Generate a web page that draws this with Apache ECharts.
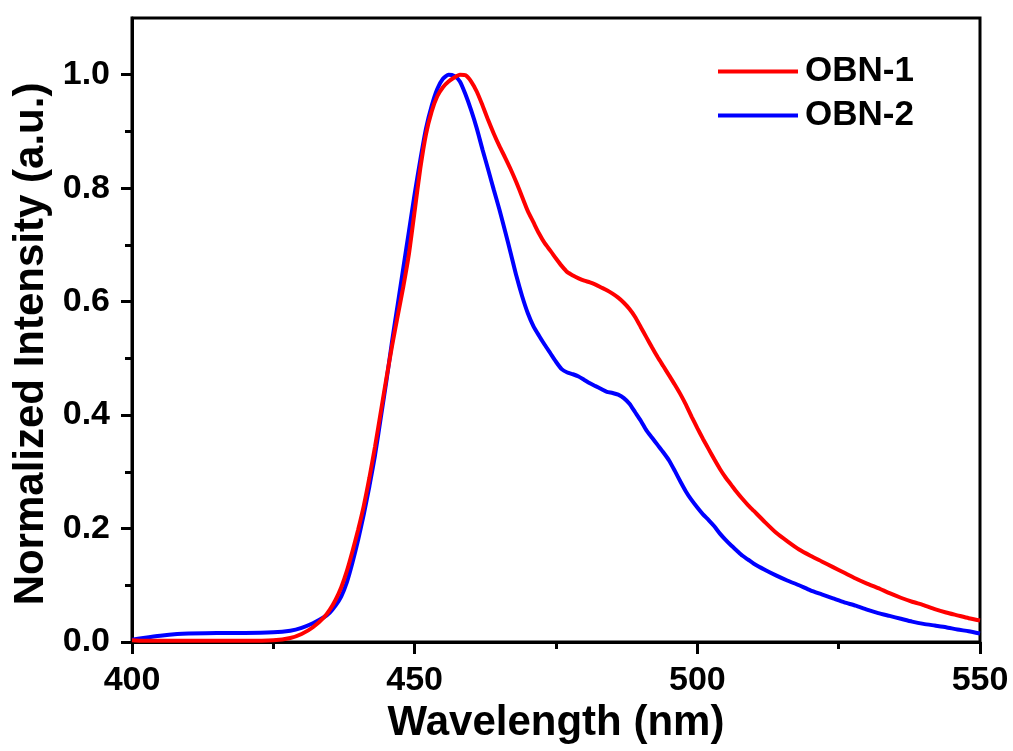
<!DOCTYPE html>
<html>
<head>
<meta charset="utf-8">
<script src="https://cdn.jsdelivr.net/npm/echarts@6/dist/echarts.min.js"></script>
<style>html,body{margin:0;padding:0;background:#fff}#c{width:1013px;height:751px}</style>
</head>
<body>
<div id="c"></div>
<script>
const wavelength = [400,402,405,408,410,415,420,425,428,430,432,434,435,436,437,438,439,440,441,442,443,444,445,446,447,448,449,450,451,452,453,454,455,456,457,458,459,460,461,462,463,464,465,466,467,468,469,470,471,472,473,474,475,476,477,478,479,480,481,482,483,484,485,486,487,488,489,490,491,492,493,494,495,496,497,498,499,500,501,502,503,504,505,506,507,508,509,510,512,514,516,518,520,522,524,526,528,530,532,534,536,538,540,542,544,546,548,550];
const obn1 = [0.003,0.002,0.002,0.002,0.002,0.002,0.002,0.003,0.007,0.014,0.026,0.044,0.057,0.074,0.096,0.125,0.160,0.198,0.240,0.290,0.345,0.405,0.465,0.522,0.575,0.627,0.685,0.760,0.835,0.895,0.935,0.962,0.978,0.988,0.995,1.000,0.999,0.988,0.970,0.946,0.920,0.896,0.874,0.854,0.833,0.810,0.785,0.760,0.740,0.720,0.703,0.690,0.676,0.663,0.652,0.646,0.641,0.637,0.634,0.630,0.625,0.620,0.614,0.607,0.598,0.587,0.573,0.555,0.537,0.519,0.502,0.486,0.470,0.454,0.437,0.418,0.397,0.377,0.358,0.340,0.322,0.305,0.290,0.277,0.264,0.252,0.241,0.231,0.211,0.192,0.177,0.163,0.152,0.142,0.132,0.122,0.112,0.103,0.095,0.086,0.078,0.071,0.065,0.058,0.052,0.047,0.042,0.038];
const obn2 = [0.004,0.007,0.011,0.014,0.015,0.016,0.016,0.017,0.020,0.025,0.033,0.044,0.052,0.064,0.080,0.105,0.140,0.180,0.225,0.275,0.330,0.395,0.460,0.530,0.595,0.660,0.725,0.790,0.850,0.905,0.945,0.975,0.993,1.000,0.998,0.988,0.965,0.937,0.905,0.868,0.833,0.797,0.762,0.724,0.685,0.645,0.610,0.580,0.557,0.540,0.524,0.509,0.494,0.481,0.475,0.472,0.468,0.462,0.456,0.451,0.446,0.441,0.439,0.436,0.430,0.420,0.405,0.390,0.373,0.360,0.347,0.334,0.320,0.302,0.283,0.265,0.250,0.237,0.225,0.215,0.204,0.191,0.180,0.170,0.161,0.152,0.145,0.138,0.127,0.117,0.108,0.100,0.091,0.084,0.077,0.070,0.064,0.057,0.051,0.046,0.041,0.036,0.032,0.029,0.026,0.022,0.019,0.015];
const yMajorTicks = [0, 0.2, 0.4, 0.6, 0.8, 1.0];
const yMinorTicks = [0.1, 0.3, 0.5, 0.7, 0.9];
const xTitle = 'Wavelength (nm)';
const yTitle = 'Normalized Intensity (a.u.)';
const seriesNames = ['OBN-1', 'OBN-2'];

const FONT = 'Liberation Sans, Arial, sans-serif';
const chart = echarts.init(document.getElementById('c'), null, {renderer: 'canvas'});
const pair = (ys) => wavelength.map((x, i) => [x, ys[i]]);

chart.setOption({
  animation: false,
  backgroundColor: '#ffffff',
  grid: {left: 132, right: 33, top: 18, bottom: 109, show: true, borderColor: '#000', borderWidth: 3,
    backgroundColor: 'transparent', containLabel: false, outerBoundsMode: 'none'},
  legend: {
    orient: 'vertical', left: 713, top: 49, itemWidth: 80, itemHeight: 14, itemGap: 9,
    textStyle: {fontFamily: FONT, fontWeight: 'bold', fontSize: 35, color: '#000', padding: [0,0,0,2]},
    data: seriesNames.map(n => ({name: n, icon: 'path://M0,0L80,0L80,4L0,4Z'}))
  },
  xAxis: {
    type: 'value', min: 400, max: 550, interval: 50,
    name: xTitle, nameLocation: 'middle', nameGap: 52,
    nameTextStyle: {fontFamily: FONT, fontWeight: 'bold', fontSize: 42, color: '#000'},
    axisLine: {lineStyle: {color: '#000', width: 3}},
    axisTick: {show: true, length: 12, lineStyle: {color: '#000', width: 3}},
    minorTick: {show: true, splitNumber: 2, length: 7, lineStyle: {color: '#000', width: 3}},
    axisLabel: {fontFamily: FONT, fontWeight: 'bold', fontSize: 34, color: '#000', margin: 22},
    splitLine: {show: false}, minorSplitLine: {show: false}
  },
  yAxis: [{
    type: 'value', min: 0, max: 1.1,
    axisLine: {lineStyle: {color: '#000', width: 3}},
    axisTick: {show: true, length: 11, customValues: yMajorTicks, lineStyle: {color: '#000', width: 3}},
    axisLabel: {fontFamily: FONT, fontWeight: 'bold', fontSize: 34, color: '#000', margin: 22,
      customValues: yMajorTicks, formatter: v => v.toFixed(1)},
    splitLine: {show: false}
  }, {
    type: 'value', min: 0, max: 1.1, position: 'left',
    axisLine: {show: false},
    axisTick: {show: true, length: 7, customValues: yMinorTicks, lineStyle: {color: '#000', width: 3}},
    axisLabel: {show: false},
    splitLine: {show: false}
  }],
  graphic: [{
    type: 'text', x: 31, y: 344, rotation: Math.PI / 2,
    style: {text: yTitle, fontFamily: FONT, fontWeight: 'bold', fontSize: 42, fill: '#000', align: 'center', verticalAlign: 'middle'}
  }],
  series: [
    {name: seriesNames[0], type: 'line', data: pair(obn1), showSymbol: false, symbol: 'none', smooth: 0.2,
      lineStyle: {color: '#ff0000', width: 4}, itemStyle: {color: '#ff0000'}, z: 3},
    {name: seriesNames[1], type: 'line', data: pair(obn2), showSymbol: false, symbol: 'none', smooth: 0.2,
      lineStyle: {color: '#0000ff', width: 4}, itemStyle: {color: '#0000ff'}, z: 2}
  ]
});
</script>
</body>
</html>
